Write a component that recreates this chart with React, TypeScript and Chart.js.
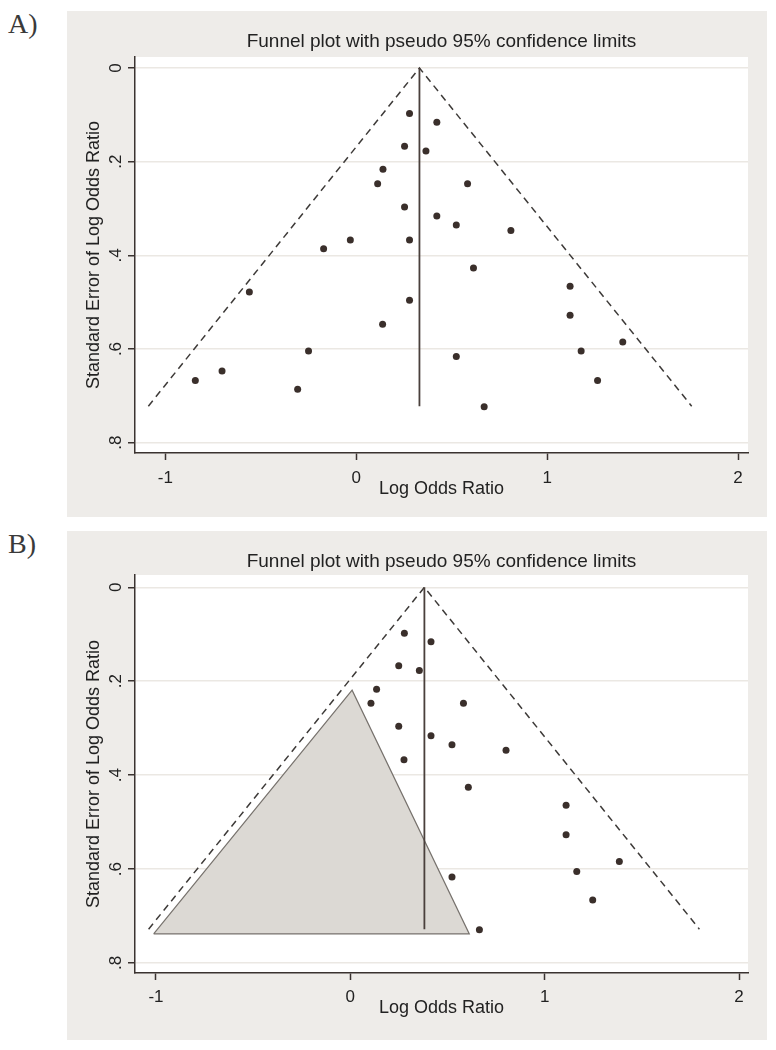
import React, { useEffect, useRef } from 'react';
import { Chart, registerables } from 'chart.js';

Chart.register(...registerables);
Chart.defaults.font.family = '"Liberation Sans", Arial, sans-serif';

// ---------- text ----------
const CHART_TITLE = 'Funnel plot with pseudo 95% confidence limits';
const X_AXIS_TITLE = 'Log Odds Ratio';
const Y_AXIS_TITLE = 'Standard Error of Log Odds Ratio';
const PANEL_LABELS = ['A)', 'B)'];

// ---------- ticks ----------
const X_TICK_VALUES = [-1, 0, 1, 2];
const X_TICK_LABELS = ['-1', '0', '1', '2'];
const Y_TICK_VALUES = [0, 0.2, 0.4, 0.6, 0.8];
const Y_TICK_LABELS = ['0', '.2', '.4', '.6', '.8'];

// ---------- panel A: all studies ----------
const A_LOG_OR = [0.279, 0.422, 0.253, 0.365, 0.140, 0.112, 0.583, 0.253, 0.422, 0.524,
  0.810, 0.279, -0.031, -0.171, 0.614, -0.560, 0.279, 1.120, 1.120, 0.138,
  1.396, -0.250, 1.178, 0.524, -0.703, -0.843, 1.264, -0.307, 0.670];
const A_SE = [0.097, 0.116, 0.167, 0.177, 0.216, 0.247, 0.247, 0.297, 0.316, 0.335,
  0.347, 0.367, 0.367, 0.386, 0.427, 0.478, 0.496, 0.466, 0.528, 0.547,
  0.585, 0.604, 0.604, 0.616, 0.647, 0.667, 0.667, 0.686, 0.723];
const A_FUNNEL_X = [-1.089, 0.331, 1.757];
const A_FUNNEL_Y = [0.722, 0, 0.722];
const A_POOLED_X = [0.331, 0.331];
const A_POOLED_Y = [0, 0.722];

// ---------- panel B: studies remaining ----------
const B_LOG_OR = [0.278, 0.415, 0.249, 0.355, 0.135, 0.106, 0.582, 0.249, 0.415, 0.523,
  0.801, 0.276, 0.607, 1.110, 1.110, 1.384, 1.165, 0.523, 1.247, 0.664];
const B_SE = [0.098, 0.116, 0.167, 0.177, 0.217, 0.247, 0.247, 0.296, 0.316, 0.335,
  0.347, 0.367, 0.426, 0.464, 0.527, 0.584, 0.605, 0.617, 0.666, 0.729];
const B_FUNNEL_X = [-1.038, 0.381, 1.796];
const B_FUNNEL_Y = [0.728, 0, 0.728];
const B_POOLED_X = [0.381, 0.381];
const B_POOLED_Y = [0, 0.728];
const B_MISSING_X = [-1.012, 0.009, 0.612, -1.012];
const B_MISSING_Y = [0.738, 0.219, 0.738, 0.738];

const pts = (xs: number[], ys: number[]) => xs.map((x, i) => ({ x, y: ys[i] }));

const DARK = '#3a3330';
const TEXT = '#222222';

const panelBackground = {
  id: 'panelBackground',
  beforeDraw(chart: any) {
    const { ctx, chartArea: a, width, height } = chart;
    ctx.save();
    ctx.fillStyle = '#eeece9';
    ctx.fillRect(0, 0, width, height);
    ctx.fillStyle = '#ffffff';
    ctx.fillRect(a.left, a.top, a.right - a.left, a.bottom - a.top);
    ctx.restore();
  },
};

type PanelSpec = {
  logOR: number[]; se: number[];
  funnelX: number[]; funnelY: number[];
  pooledX: number[]; pooledY: number[];
  missX?: number[]; missY?: number[];
  xMin: number; xMax: number; yMin: number; yMax: number;
  width: number; height: number;
  titlePadTop: number; titlePadBottom: number;
  xAxisHeight: number; xTickPad: number; xTitlePadBottom: number;
};

function Panel({ spec }: { spec: PanelSpec }) {
  const ref = useRef<HTMLCanvasElement | null>(null);
  useEffect(() => {
    if (!ref.current) return;
    const datasets: any[] = [
      {
        label: 'studies', data: pts(spec.logOR, spec.se), showLine: false,
        pointRadius: 3.5, pointBackgroundColor: '#3a2f2b', pointBorderWidth: 0, order: 0,
      },
      {
        label: 'pooled', data: pts(spec.pooledX, spec.pooledY), showLine: true,
        pointRadius: 0, borderColor: '#4a403c', borderWidth: 1.8, order: 1,
      },
      {
        label: 'funnel', data: pts(spec.funnelX, spec.funnelY), showLine: true,
        pointRadius: 0, borderColor: '#3d3a38', borderWidth: 1.5, borderDash: [7, 5], order: 2,
      },
    ];
    if (spec.missX && spec.missY) {
      datasets.push({
        label: 'missing', data: pts(spec.missX, spec.missY), showLine: true,
        pointRadius: 0, borderColor: '#77726d', borderWidth: 1.2,
        backgroundColor: '#dcd9d4', fill: 'shape', order: 3,
      });
    }
    const chart = new Chart(ref.current, {
      type: 'scatter',
      data: { datasets },
      plugins: [panelBackground],
      options: {
        animation: false,
        responsive: false,
        maintainAspectRatio: false,
        layout: { padding: { left: 0, right: 19, top: 0, bottom: 0 } },
        plugins: {
          legend: { display: false },
          tooltip: { enabled: false },
          title: {
            display: true, text: CHART_TITLE, fullSize: false, color: TEXT,
            font: { size: 19, weight: 'normal' },
            padding: { top: spec.titlePadTop, bottom: spec.titlePadBottom },
          },
        },
        scales: {
          x: {
            type: 'linear', min: spec.xMin, max: spec.xMax,
            afterBuildTicks: (s: any) => { s.ticks = X_TICK_VALUES.map((v) => ({ value: v })); },
            afterFit: (s: any) => { s.height = spec.xAxisHeight; },
            ticks: {
              callback: (v: any) => X_TICK_LABELS[X_TICK_VALUES.indexOf(Number(v))] ?? '',
              font: { size: 17 }, color: TEXT, padding: spec.xTickPad,
              minRotation: 0, maxRotation: 0, autoSkip: false,
            },
            grid: { drawOnChartArea: false, drawTicks: true, tickLength: 7, tickColor: DARK, tickWidth: 1.5 },
            border: { display: true, color: DARK, width: 1.5 },
            title: {
              display: true, text: X_AXIS_TITLE, color: TEXT, font: { size: 18 },
              padding: { top: 0, bottom: spec.xTitlePadBottom },
            },
          },
          y: {
            type: 'linear', reverse: true, min: spec.yMin, max: spec.yMax,
            afterBuildTicks: (s: any) => { s.ticks = Y_TICK_VALUES.map((v) => ({ value: v })); },
            afterFit: (s: any) => { s.width = 68; },
            ticks: {
              callback: (v: any) => Y_TICK_LABELS[Y_TICK_VALUES.indexOf(Number(v))] ?? '',
              font: { size: 17 }, color: TEXT, padding: 5,
              minRotation: 90, maxRotation: 90, crossAlign: 'center', autoSkip: false,
            },
            grid: {
              color: '#ebe8e3', lineWidth: 1.5, drawTicks: true, tickLength: 7,
              tickColor: DARK, tickWidth: 1.5,
            },
            border: { display: true, color: DARK, width: 1.5 },
            title: {
              display: true, text: Y_AXIS_TITLE, color: TEXT, font: { size: 18 },
              padding: { top: 16, bottom: 0 },
            },
          },
        },
      } as any,
    });
    return () => chart.destroy();
  }, [spec]);
  return <canvas ref={ref} width={spec.width} height={spec.height} style={{ display: 'block' }} />;
}

const SPEC_A: PanelSpec = {
  logOR: A_LOG_OR, se: A_SE, funnelX: A_FUNNEL_X, funnelY: A_FUNNEL_Y,
  pooledX: A_POOLED_X, pooledY: A_POOLED_Y,
  xMin: -1.159, xMax: 2.052, yMin: -0.0235, yMax: 0.822,
  width: 700, height: 506, titlePadTop: 19, titlePadBottom: 4.2,
  xAxisHeight: 64, xTickPad: 8, xTitlePadBottom: 17,
};

const SPEC_B: PanelSpec = {
  logOR: B_LOG_OR, se: B_SE, funnelX: B_FUNNEL_X, funnelY: B_FUNNEL_Y,
  pooledX: B_POOLED_X, pooledY: B_POOLED_Y, missX: B_MISSING_X, missY: B_MISSING_Y,
  xMin: -1.108, xMax: 2.046, yMin: -0.0262, yMax: 0.8213,
  width: 700, height: 509, titlePadTop: 19, titlePadBottom: 2.2,
  xAxisHeight: 67, xTickPad: 7, xTitlePadBottom: 21,
};

const labelStyle: React.CSSProperties = {
  position: 'absolute', left: 8, font: '28px "Liberation Serif", "Times New Roman", serif',
  lineHeight: '28px', color: '#3a3a3a',
};

export default function App() {
  return (
    <div style={{ position: 'absolute', left: 0, top: 0, width: 776, height: 1050, background: '#ffffff' }}>
      <div style={{ ...labelStyle, top: 10 }}>{PANEL_LABELS[0]}</div>
      <div style={{ position: 'absolute', left: 67, top: 11 }}>
        <Panel spec={SPEC_A} />
      </div>
      <div style={{ ...labelStyle, top: 530 }}>{PANEL_LABELS[1]}</div>
      <div style={{ position: 'absolute', left: 67, top: 531 }}>
        <Panel spec={SPEC_B} />
      </div>
    </div>
  );
}
